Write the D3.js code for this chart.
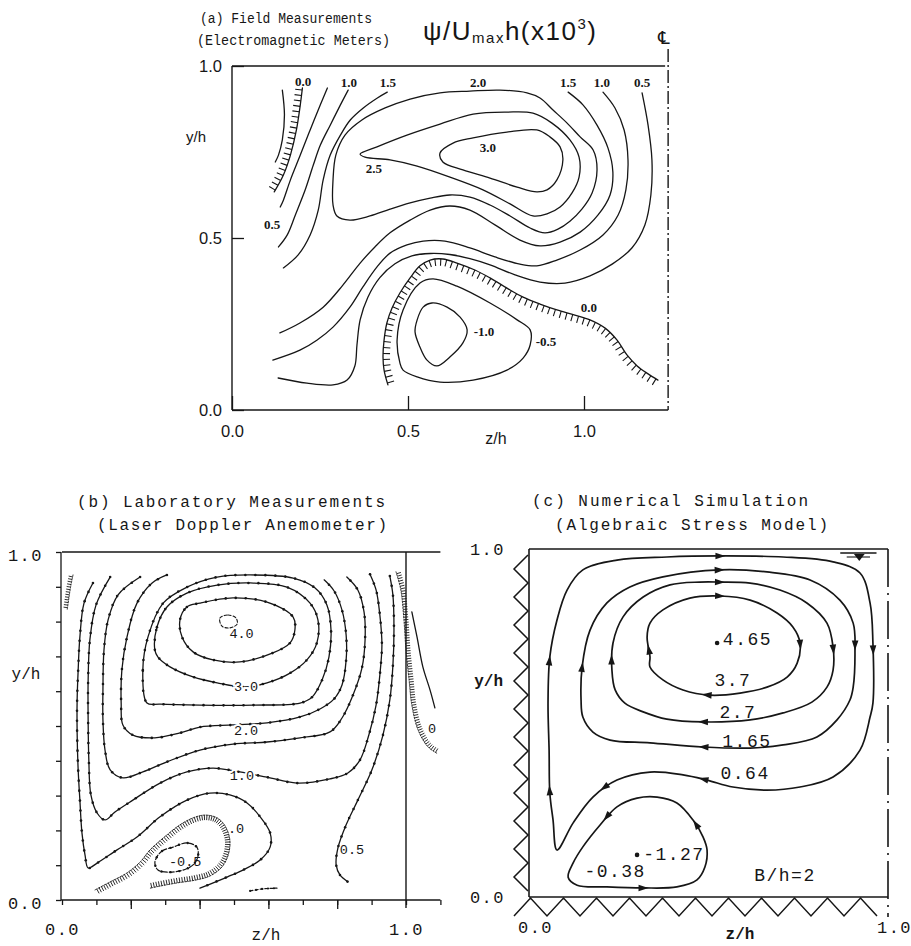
<!DOCTYPE html>
<html>
<head>
<meta charset="utf-8">
<script src="https://cdn.jsdelivr.net/npm/d3@7"></script>
<style>
  html,body{margin:0;padding:0;background:#fff;}
  svg{display:block;}
</style>
</head>
<body>
<svg id="chart" width="911" height="946" viewBox="0 0 911 946"></svg>
<script>
// ================= DATA (z/h, y/h) =================
// ---- Panel (a) Field measurements ----
const aZMax = 1.239;                       // channel centreline position
const aXTicks = [0, 0.5, 1.0];
const aYTicks = [0, 0.5, 1.0];
const aLeftPlain   = [[0.143,0.930],[0.149,0.858],[0.143,0.785],[0.132,0.741],[0.123,0.721]];
const aZeroTop     = [[0.200,0.936],[0.194,0.887],[0.183,0.814],[0.166,0.741],[0.146,0.683],[0.120,0.634]];
const aHalfLeft    = [[0.271,0.936],[0.251,0.887],[0.222,0.814],[0.194,0.741],[0.166,0.669],[0.146,0.610],[0.137,0.590]];
const aOneLeft     = [[0.330,0.930],[0.308,0.887],[0.279,0.828],[0.251,0.770],[0.231,0.712],[0.208,0.640],[0.180,0.567],[0.157,0.509],[0.132,0.474]];
const aOneHalfLeft = [[0.441,0.924],[0.413,0.907],[0.373,0.878],[0.336,0.843],[0.308,0.799],[0.279,0.741],[0.259,0.669],[0.245,0.581],[0.222,0.509],[0.188,0.451],[0.146,0.413]];
const aThree   = [[0.591,0.747],[0.628,0.776],[0.685,0.791],[0.781,0.808],[0.866,0.814],[0.903,0.794],[0.932,0.765],[0.940,0.727],[0.923,0.669],[0.895,0.640],[0.866,0.634],[0.810,0.648],[0.733,0.674],[0.656,0.698],[0.599,0.721]];
const aTwoHalf = [[0.364,0.744],[0.412,0.765],[0.497,0.799],[0.591,0.831],[0.685,0.860],[0.781,0.866],[0.855,0.863],[0.909,0.834],[0.960,0.785],[0.986,0.735],[0.986,0.677],[0.966,0.631],[0.932,0.590],[0.895,0.570],[0.855,0.564],[0.790,0.599],[0.713,0.640],[0.619,0.677],[0.526,0.709],[0.449,0.727],[0.378,0.735]];
const aTwo     = [[0.676,0.927],[0.591,0.922],[0.506,0.904],[0.435,0.878],[0.369,0.843],[0.321,0.799],[0.295,0.741],[0.287,0.669],[0.287,0.596],[0.298,0.564],[0.335,0.552],[0.392,0.564],[0.449,0.584],[0.506,0.602],[0.563,0.616],[0.619,0.625],[0.676,0.619],[0.733,0.596],[0.790,0.564],[0.847,0.529],[0.889,0.515],[0.926,0.526],[0.960,0.549],[0.994,0.584],[1.023,0.631],[1.037,0.698],[1.026,0.756],[0.989,0.794],[0.952,0.834],[0.912,0.872],[0.875,0.907],[0.838,0.922],[0.761,0.930]];
const aOneHalfRight = [[0.955,0.924],[0.997,0.887],[1.037,0.828],[1.068,0.762],[1.082,0.692],[1.074,0.625],[1.040,0.567],[0.989,0.517],[0.932,0.488],[0.875,0.477],[0.818,0.494],[0.747,0.538],[0.676,0.581],[0.619,0.593],[0.563,0.581],[0.506,0.552],[0.449,0.515],[0.406,0.474],[0.364,0.427],[0.315,0.363],[0.259,0.299],[0.193,0.253],[0.136,0.224]];
const aOneRight = [[1.054,0.924],[1.088,0.878],[1.114,0.814],[1.125,0.727],[1.119,0.640],[1.097,0.567],[1.054,0.509],[0.989,0.465],[0.923,0.436],[0.866,0.419],[0.818,0.424],[0.747,0.445],[0.676,0.471],[0.605,0.491],[0.543,0.491],[0.497,0.480],[0.449,0.456],[0.412,0.416],[0.372,0.358],[0.335,0.299],[0.287,0.241],[0.241,0.203],[0.193,0.174],[0.116,0.145]];
const aHalfRight = [[0.131,0.093],[0.213,0.078],[0.287,0.073],[0.327,0.087],[0.349,0.128],[0.355,0.189],[0.364,0.262],[0.386,0.328],[0.420,0.385],[0.463,0.425],[0.511,0.448],[0.563,0.455],[0.619,0.452],[0.676,0.440],[0.733,0.422],[0.804,0.393],[0.875,0.372],[0.946,0.369],[1.017,0.390],[1.080,0.424],[1.136,0.471],[1.173,0.538],[1.190,0.625],[1.193,0.727],[1.182,0.828],[1.165,0.922]];
const aZeroBottom = [[0.443,0.073],[0.432,0.116],[0.429,0.154],[0.432,0.203],[0.440,0.253],[0.455,0.297],[0.477,0.340],[0.506,0.384],[0.534,0.419],[0.563,0.436],[0.599,0.439],[0.639,0.427],[0.690,0.407],[0.733,0.384],[0.790,0.349],[0.827,0.328],[0.875,0.308],[0.923,0.291],[0.974,0.276],[1.017,0.262],[1.060,0.238],[1.094,0.203],[1.122,0.160],[1.151,0.128],[1.182,0.105],[1.210,0.087]];
const aMinusHalf = [[0.477,0.137],[0.469,0.203],[0.486,0.291],[0.534,0.369],[0.571,0.381],[0.639,0.360],[0.733,0.311],[0.810,0.262],[0.847,0.233],[0.847,0.189],[0.827,0.151],[0.781,0.116],[0.685,0.087],[0.591,0.081],[0.526,0.096],[0.486,0.116]];
const aMinusOne  = [[0.526,0.262],[0.543,0.299],[0.568,0.311],[0.611,0.299],[0.648,0.270],[0.668,0.233],[0.656,0.195],[0.619,0.154],[0.582,0.128],[0.554,0.145],[0.534,0.183],[0.520,0.227]];
const aLabels = [
  {t:"0.0", z:0.202, y:0.956}, {t:"1.0", z:0.332, y:0.951}, {t:"1.5", z:0.443, y:0.951},
  {t:"2.0", z:0.699, y:0.953}, {t:"1.5", z:0.955, y:0.951}, {t:"1.0", z:1.051, y:0.951},
  {t:"0.5", z:1.165, y:0.951}, {t:"3.0", z:0.727, y:0.762}, {t:"2.5", z:0.403, y:0.703},
  {t:"0.5", z:0.114, y:0.538}, {t:"0.0", z:1.014, y:0.297}, {t:"-1.0", z:0.716, y:0.227},
  {t:"-0.5", z:0.892, y:0.198}
];

// ---- Panel (b) Laboratory measurements ----
const bZMax = 1.1;
const bXTicks = [0,0.1,0.2,0.3,0.4,0.5,0.6,0.7,0.8,0.9,1.0,1.1];
const bXMajor = [0.2,0.4,0.6,0.8];
const bYTicks = [0,0.1,0.2,0.3,0.4,0.5,0.6,0.7,0.8,0.9,1.0];
const bLabelTicks = [0, 1.0];
const bFour      = [[0.459,0.810],[0.483,0.819],[0.506,0.810],[0.509,0.793],[0.488,0.782],[0.465,0.787]];
const bThreeHalf = [[0.343,0.805],[0.363,0.842],[0.401,0.853],[0.497,0.868],[0.596,0.856],[0.672,0.813],[0.677,0.776],[0.663,0.739],[0.613,0.710],[0.517,0.684],[0.439,0.690],[0.381,0.713],[0.349,0.756]];
const bThree     = [[0.270,0.718],[0.276,0.784],[0.305,0.842],[0.363,0.882],[0.451,0.905],[0.547,0.911],[0.654,0.899],[0.721,0.853],[0.744,0.805],[0.741,0.739],[0.712,0.690],[0.663,0.652],[0.596,0.624],[0.532,0.612],[0.451,0.624],[0.381,0.641],[0.314,0.670],[0.279,0.698]];
const bTwoHalf   = [[0.247,0.566],[0.235,0.661],[0.250,0.756],[0.294,0.853],[0.363,0.899],[0.451,0.928],[0.547,0.934],[0.672,0.925],[0.735,0.897],[0.770,0.848],[0.782,0.776],[0.776,0.698],[0.756,0.632],[0.727,0.583],[0.692,0.566],[0.555,0.560],[0.401,0.560],[0.285,0.563]];
const bTwo       = [[0.305,0.934],[0.262,0.911],[0.218,0.853],[0.189,0.756],[0.174,0.661],[0.172,0.566],[0.177,0.503],[0.206,0.474],[0.270,0.466],[0.343,0.480],[0.401,0.497],[0.497,0.503],[0.596,0.509],[0.692,0.526],[0.750,0.549],[0.791,0.578],[0.814,0.618],[0.826,0.690],[0.826,0.761],[0.814,0.833],[0.791,0.888],[0.762,0.920]];
const bOneHalf   = [[0.227,0.928],[0.163,0.877],[0.134,0.805],[0.122,0.718],[0.119,0.604],[0.119,0.517],[0.125,0.431],[0.140,0.374],[0.177,0.351],[0.235,0.368],[0.305,0.397],[0.401,0.431],[0.497,0.448],[0.596,0.454],[0.692,0.466],[0.779,0.483],[0.814,0.523],[0.846,0.589],[0.872,0.667],[0.881,0.747],[0.878,0.828],[0.860,0.891],[0.828,0.928]];
const bOne       = [[0.140,0.928],[0.099,0.848],[0.081,0.747],[0.076,0.632],[0.076,0.517],[0.078,0.402],[0.084,0.302],[0.102,0.250],[0.125,0.230],[0.154,0.253],[0.206,0.287],[0.285,0.336],[0.363,0.368],[0.439,0.379],[0.517,0.368],[0.596,0.353],[0.683,0.336],[0.779,0.348],[0.831,0.365],[0.866,0.402],[0.892,0.474],[0.913,0.560],[0.924,0.647],[0.930,0.733],[0.924,0.819],[0.913,0.891],[0.895,0.937]];
const bHalfLeft  = [[0.090,0.911],[0.064,0.853],[0.052,0.756],[0.047,0.661],[0.044,0.575],[0.044,0.480],[0.047,0.374],[0.052,0.287],[0.058,0.193],[0.067,0.129],[0.076,0.092],[0.102,0.106],[0.160,0.144],[0.218,0.181],[0.285,0.239],[0.363,0.287],[0.430,0.307],[0.488,0.302],[0.538,0.279],[0.576,0.239],[0.605,0.193],[0.605,0.152],[0.576,0.115],[0.526,0.086],[0.480,0.066],[0.401,0.034]];
const bHalfRight = [[0.953,0.931],[0.962,0.876],[0.965,0.776],[0.962,0.675],[0.953,0.575],[0.933,0.474],[0.901,0.374],[0.860,0.287],[0.826,0.216],[0.802,0.149],[0.797,0.101],[0.808,0.072],[0.831,0.052]];
const bZeroInner = [[0.096,0.029],[0.140,0.052],[0.189,0.078],[0.227,0.109],[0.256,0.144],[0.305,0.187],[0.343,0.216],[0.381,0.236],[0.416,0.244],[0.451,0.236],[0.474,0.213],[0.488,0.172],[0.483,0.129],[0.465,0.095],[0.430,0.069],[0.387,0.057],[0.334,0.049],[0.285,0.040],[0.256,0.034]];
const bMinusHalf = [[0.276,0.124],[0.291,0.141],[0.323,0.152],[0.363,0.164],[0.392,0.152],[0.395,0.124],[0.381,0.101],[0.352,0.086],[0.314,0.080],[0.279,0.086],[0.270,0.106]];
const bFragment  = [[0.547,0.026],[0.584,0.032],[0.625,0.034]];
const bCornerHatch = [[0.032,0.934],[0.026,0.905],[0.020,0.868],[0.015,0.833]];
const bWallHatch = [[0.971,0.943],[0.985,0.891],[0.994,0.805],[1.000,0.718],[1.009,0.632],[1.017,0.560],[1.035,0.489],[1.064,0.440],[1.093,0.420]];
const bBeyond    = [[1.017,0.828],[1.032,0.756],[1.049,0.670],[1.070,0.603],[1.084,0.552]];
const bLabels = [
  {t:"4.0", z:0.522, y:0.767, halo:false}, {t:"3.0", z:0.535, y:0.615, halo:true},
  {t:"2.0", z:0.535, y:0.489, halo:true},  {t:"1.0", z:0.523, y:0.359, halo:true},
  {t:".0",  z:0.506, y:0.207, halo:false}, {t:"-0.5", z:0.358, y:0.112, halo:false},
  {t:"0.5", z:0.843, y:0.147, halo:false}, {t:"0",  z:1.076, y:0.494, halo:false}
];

// ---- Panel (c) Numerical simulation ----
const cLabelTicks = [0, 1.0];
const c370 = [[0.337,0.690],[0.329,0.747],[0.337,0.787],[0.373,0.825],[0.448,0.859],[0.532,0.865],[0.616,0.853],[0.691,0.816],[0.735,0.776],[0.755,0.730],[0.747,0.672],[0.719,0.632],[0.663,0.603],[0.588,0.586],[0.504,0.580],[0.429,0.595],[0.373,0.624],[0.337,0.661]];
const c270 = [[0.231,0.652],[0.240,0.595],[0.267,0.557],[0.318,0.532],[0.384,0.511],[0.485,0.503],[0.616,0.509],[0.708,0.529],[0.788,0.560],[0.830,0.603],[0.847,0.652],[0.847,0.718],[0.830,0.787],[0.774,0.845],[0.699,0.882],[0.616,0.902],[0.532,0.905],[0.476,0.905],[0.393,0.897],[0.318,0.862],[0.262,0.805],[0.234,0.730]];
const c165 = [[0.145,0.566],[0.148,0.661],[0.170,0.767],[0.217,0.845],[0.281,0.891],[0.373,0.920],[0.532,0.940],[0.663,0.934],[0.783,0.911],[0.866,0.853],[0.903,0.787],[0.908,0.701],[0.903,0.603],[0.894,0.566],[0.858,0.509],[0.802,0.460],[0.708,0.437],[0.616,0.428],[0.485,0.431],[0.337,0.443],[0.226,0.451],[0.178,0.474],[0.150,0.517]];
const c064 = [[0.078,0.135],[0.067,0.221],[0.058,0.299],[0.056,0.422],[0.053,0.557],[0.058,0.690],[0.078,0.796],[0.106,0.882],[0.150,0.940],[0.245,0.968],[0.384,0.977],[0.532,0.980],[0.708,0.977],[0.847,0.963],[0.922,0.931],[0.950,0.845],[0.958,0.730],[0.958,0.557],[0.950,0.517],[0.922,0.422],[0.847,0.345],[0.755,0.316],[0.663,0.307],[0.568,0.316],[0.496,0.336],[0.429,0.351],[0.337,0.359],[0.245,0.336],[0.178,0.287],[0.123,0.213]];
const cM038 = [[0.109,0.057],[0.123,0.098],[0.150,0.144],[0.198,0.207],[0.245,0.259],[0.301,0.284],[0.357,0.287],[0.412,0.270],[0.457,0.221],[0.485,0.172],[0.496,0.135],[0.490,0.086],[0.468,0.049],[0.412,0.029],[0.318,0.026],[0.217,0.029],[0.134,0.034]];
const cArrows370 = [[0.532,0.862],[0.755,0.724],[0.331,0.710],[0.496,0.583]];
const cArrows270 = [[0.532,0.905],[0.847,0.710],[0.231,0.681],[0.485,0.503]];
const cArrows165 = [[0.532,0.940],[0.905,0.724],[0.148,0.661],[0.485,0.431]];
const cArrows064 = [[0.532,0.980],[0.958,0.710],[0.058,0.681],[0.058,0.307],[0.485,0.333],[0.209,0.313]];
const cArrowsM038 = [[0.220,0.227],[0.454,0.201],[0.318,0.026]];
const cPoints = [{z:0.524, y:0.730}, {z:0.301, y:0.121}];
const cLabels = [
  {t:"4.65", z:0.540, y:0.744, anchor:"start"},
  {t:"3.7",  z:0.568, y:0.624, anchor:"middle"},
  {t:"2.7",  z:0.582, y:0.532, anchor:"middle"},
  {t:"1.65", z:0.607, y:0.451, anchor:"middle"},
  {t:"0.64", z:0.602, y:0.359, anchor:"middle"},
  {t:"-1.27",z:0.318, y:0.126, anchor:"start"},
  {t:"-0.38",z:0.240, y:0.075, anchor:"middle"},
  {t:"B/h=2",z:0.713, y:0.066, anchor:"middle"}
];

// ================= RENDERING =================
const INK = "#161616";
const MONO = "'Liberation Mono','DejaVu Sans Mono',monospace";
const SANS = "'Liberation Sans','DejaVu Sans',Arial,sans-serif";
const SERIF = "'Liberation Serif','DejaVu Serif',serif";
const svg = d3.select("#chart");
svg.append("rect").attr("width",911).attr("height",946).attr("fill","#fff");

function tangentAt(node, s) {
  const L = node.getTotalLength();
  const a = node.getPointAtLength(Math.max(0, s - 0.8));
  const b = node.getPointAtLength(Math.min(L, s + 0.8));
  const dx = b.x - a.x, dy = b.y - a.y, m = Math.hypot(dx, dy) || 1;
  return [dx / m, dy / m];
}
function addHatch(g, node, h) {
  const L = node.getTotalLength();
  const p = d3.path();
  for (let s = h.start || 2; s < L - 1; s += h.step) {
    const q = node.getPointAtLength(s);
    const [tx, ty] = tangentAt(node, s);
    const nx = -ty * h.side, ny = tx * h.side;
    p.moveTo(q.x, q.y);
    p.lineTo(q.x + nx * h.len + tx * (h.lean || 0), q.y + ny * h.len + ty * (h.lean || 0));
  }
  g.append("path").attr("d", p.toString()).attr("fill", "none")
    .attr("stroke", INK).attr("stroke-width", h.sw || 1);
}
function addDots(g, node, d) {
  const L = node.getTotalLength();
  for (let s = 0; s <= L; s += d.step) {
    const q = node.getPointAtLength(s);
    g.append("circle").attr("cx", q.x).attr("cy", q.y).attr("r", d.r).attr("fill", INK);
  }
}
function drawLine(g, sx, sy, pts, o = {}) {
  const gen = d3.line().x(d => sx(d[0])).y(d => sy(d[1]))
    .curve(o.closed ? d3.curveCatmullRomClosed.alpha(0.5) : d3.curveCatmullRom.alpha(0.5));
  const p = g.append("path").attr("d", gen(pts)).attr("fill", "none")
    .attr("stroke", INK).attr("stroke-width", o.sw || 1.3)
    .attr("stroke-linejoin", "round").attr("stroke-linecap", "round");
  if (o.dash) p.attr("stroke-dasharray", o.dash);
  const node = p.node();
  if (o.hatch) addHatch(g, node, o.hatch);
  if (o.dots) addDots(g, node, o.dots);
  return node;
}
function addArrows(g, node, sx, sy, targets, dir) {
  const L = node.getTotalLength();
  targets.forEach(t => {
    const tx = sx(t[0]), ty = sy(t[1]);
    let best = 0, bd = Infinity;
    for (let s = 0; s <= L; s += 1) {
      const q = node.getPointAtLength(s);
      const d = (q.x - tx) ** 2 + (q.y - ty) ** 2;
      if (d < bd) { bd = d; best = s; }
    }
    const q = node.getPointAtLength(best);
    let [ux, uy] = tangentAt(node, best); ux *= dir; uy *= dir;
    const len = 10, w = 3.3;
    const tip = [q.x + ux * len / 2, q.y + uy * len / 2];
    const base = [q.x - ux * len / 2, q.y - uy * len / 2];
    const pts = [tip, [base[0] - uy * w, base[1] + ux * w], [base[0] + uy * w, base[1] - ux * w]];
    g.append("path").attr("d", "M" + pts.map(v => v.join(",")).join("L") + "Z").attr("fill", INK);
  });
}
function frameLine(g, x1, y1, x2, y2, w, dash) {
  const l = g.append("line").attr("x1", x1).attr("y1", y1).attr("x2", x2).attr("y2", y2)
    .attr("stroke", INK).attr("stroke-width", w || 1.4);
  if (dash) l.attr("stroke-dasharray", dash);
  return l;
}
function styleAxis(sel, font, size, extra) {
  sel.select(".domain").remove();
  sel.attr("font-family", null).attr("font-size", null);
  sel.selectAll(".tick line").attr("stroke", INK).attr("stroke-width", 1.3);
  sel.selectAll(".tick text").attr("fill", INK).attr("font-family", font).attr("font-size", size);
  if (extra) sel.selectAll(".tick text").each(function(){ extra(d3.select(this)); });
}

// ---------------- Panel (a) ----------------
(function(){
  const g = svg.append("g");
  const x = d3.scaleLinear().domain([0, 1]).range([232, 584]);
  const y = d3.scaleLinear().domain([0, 1]).range([410, 66]);

  // titles
  g.append("text").attr("x", 200).attr("y", 23).attr("font-family", MONO).attr("font-size", 14.5)
    .attr("textLength", 172).attr("lengthAdjust", "spacingAndGlyphs").attr("fill", INK).text("(a) Field Measurements");
  g.append("text").attr("x", 197).attr("y", 45).attr("font-family", MONO).attr("font-size", 14.5)
    .attr("textLength", 193).attr("lengthAdjust", "spacingAndGlyphs").attr("fill", INK).text("(Electromagnetic Meters)");
  const f = g.append("text").attr("x", 423).attr("y", 40).attr("font-family", SANS).attr("font-size", 26)
    .attr("letter-spacing", 1.5).attr("fill", INK);
  f.append("tspan").text("ψ/U");
  f.append("tspan").attr("font-size", 15).attr("dy", 3).text("max");
  f.append("tspan").attr("dy", -3).text("h(x10");
  f.append("tspan").attr("font-size", 15).attr("dy", -11).text("3");
  f.append("tspan").attr("dy", 11).text(")");
  g.append("text").attr("x", 664).attr("y", 44).attr("text-anchor", "middle")
    .attr("font-family", "'DejaVu Sans',sans-serif").attr("font-size", 18).attr("fill", INK).text("℄");

  // frame
  frameLine(g, x(0), y(1), x(0), y(0));
  frameLine(g, x(0), y(0), x(aZMax), y(0));
  frameLine(g, x(0), y(1), x(aZMax) - 3, y(1));
  frameLine(g, x(aZMax), 49, x(aZMax), y(0), 1.4, "13,3,2,3");

  g.append("g").attr("transform", `translate(0,${y(0)})`)
    .call(d3.axisBottom(x).tickValues(aXTicks).tickFormat(d3.format(".1f")).tickSize(-14).tickPadding(15))
    .call(s => styleAxis(s, SANS, 16.5));
  g.append("g").attr("transform", `translate(${x(0)},0)`)
    .call(d3.axisLeft(y).tickValues(aYTicks).tickFormat(d3.format(".1f")).tickSize(-12).tickPadding(10))
    .call(s => styleAxis(s, SANS, 16.5));
  g.append("text").attr("x", 496).attr("y", 444).attr("text-anchor", "middle").attr("font-family", SANS)
    .attr("font-size", 16).attr("fill", INK).text("z/h");
  g.append("text").attr("x", 206).attr("y", 142).attr("text-anchor", "end").attr("font-family", SANS)
    .attr("font-size", 15).attr("fill", INK).text("y/h");

  // contours
  drawLine(g, x, y, aLeftPlain);
  drawLine(g, x, y, aZeroTop, {hatch:{step:5.5, len:7, side:1, lean:0, sw:1.1}});
  drawLine(g, x, y, aHalfLeft);
  drawLine(g, x, y, aOneLeft);
  drawLine(g, x, y, aOneHalfLeft);
  drawLine(g, x, y, aThree, {closed:true});
  drawLine(g, x, y, aTwoHalf, {closed:true});
  drawLine(g, x, y, aTwo, {closed:true});
  drawLine(g, x, y, aOneHalfRight);
  drawLine(g, x, y, aOneRight);
  drawLine(g, x, y, aHalfRight);
  drawLine(g, x, y, aZeroBottom, {hatch:{step:6, len:7, side:1, lean:0, sw:1.1}});
  drawLine(g, x, y, aMinusHalf, {closed:true});
  drawLine(g, x, y, aMinusOne, {closed:true});

  g.selectAll("text.al").data(aLabels).join("text").attr("class", "al")
    .attr("x", d => x(d.z)).attr("y", d => y(d.y)).attr("dy", "0.35em")
    .attr("text-anchor", "middle").attr("font-family", SERIF).attr("font-size", 13)
    .attr("font-weight", 600).attr("fill", INK).text(d => d.t);
})();

// ---------------- Panel (b) ----------------
(function(){
  const g = svg.append("g");
  const x = d3.scaleLinear().domain([0, 1]).range([62, 406]);
  const y = d3.scaleLinear().domain([0, 1]).range([900, 552]);

  g.append("text").attr("x", 77).attr("y", 507).attr("font-family", MONO).attr("font-size", 16)
    .attr("textLength", 308).attr("lengthAdjust", "spacing").attr("fill", INK).text("(b) Laboratory Measurements");
  g.append("text").attr("x", 97).attr("y", 530).attr("font-family", MONO).attr("font-size", 16)
    .attr("textLength", 290).attr("lengthAdjust", "spacing").attr("fill", INK).text("(Laser Doppler Anemometer)");

  frameLine(g, x(0) - 1, y(1), x(0) - 1, y(0), 1.3);
  frameLine(g, x(0), y(1), x(bZMax), y(1), 1.3);
  frameLine(g, x(0) - 1, y(0), x(bZMax), y(0), 1.3);
  frameLine(g, x(1), y(1), x(1), y(0) + 8, 1.4);

  g.append("g").attr("transform", `translate(0,${y(0)})`)
    .call(d3.axisBottom(x).tickValues(bXTicks).tickFormat("").tickSize(5)).call(s => styleAxis(s, MONO, 16));
  g.append("g").attr("transform", `translate(0,${y(0)})`)
    .call(d3.axisBottom(x).tickValues(bXMajor).tickFormat("").tickSize(9)).call(s => styleAxis(s, MONO, 16));
  g.append("g").attr("transform", `translate(0,${y(0)})`)
    .call(d3.axisBottom(x).tickValues(bLabelTicks).tickFormat(d3.format(".1f")).tickSize(0).tickPadding(23))
    .call(s => styleAxis(s, MONO, 17, t => t.attr("letter-spacing", 1.5)));
  g.append("g").attr("transform", `translate(${x(0) - 1},0)`)
    .call(d3.axisLeft(y).tickValues(bYTicks).tickFormat("").tickSize(5)).call(s => styleAxis(s, MONO, 16));
  g.append("g").attr("transform", `translate(${x(0) - 1},0)`)
    .call(d3.axisLeft(y).tickValues(bLabelTicks).tickFormat(d3.format(".1f")).tickSize(0).tickPadding(18))
    .call(s => styleAxis(s, MONO, 17, t => t.attr("letter-spacing", 1.5).attr("dy", "0.5em")));
  g.append("text").attr("x", 266).attr("y", 940).attr("text-anchor", "middle").attr("font-family", MONO)
    .attr("font-size", 16).attr("fill", INK).text("z/h");
  g.append("text").attr("x", 26).attr("y", 679).attr("text-anchor", "middle").attr("font-family", MONO)
    .attr("font-size", 16).attr("fill", INK).text("y/h");

  const dots = {step: 10, r: 1.3};
  drawLine(g, x, y, bFour, {closed:true, dash:"3,2", sw:1.1});
  drawLine(g, x, y, bThreeHalf, {closed:true, dots});
  drawLine(g, x, y, bThree, {closed:true, dots});
  drawLine(g, x, y, bTwoHalf, {closed:true, dots});
  drawLine(g, x, y, bTwo, {dots});
  drawLine(g, x, y, bOneHalf, {dots});
  drawLine(g, x, y, bOne, {dots});
  drawLine(g, x, y, bHalfLeft, {dots});
  drawLine(g, x, y, bHalfRight, {dots});
  drawLine(g, x, y, bMinusHalf, {closed:true, dash:"5,2", dots:{step:9, r:1.2}, sw:1.2});
  drawLine(g, x, y, bZeroInner, {sw:0.9, dash:"2,1.5", hatch:{step:2.6, len:5, side:1, sw:0.9}});
  drawLine(g, x, y, bFragment, {dash:"3,2", sw:1.2, dots:{step:6, r:1.1}});
  drawLine(g, x, y, bCornerHatch, {sw:0.9, dash:"1.5,1.5", hatch:{step:2.6, len:4, side:1, sw:0.9}});
  drawLine(g, x, y, bWallHatch, {sw:0.9, dash:"1.5,1.5", hatch:{step:2.6, len:4.5, side:-1, sw:0.9}});
  drawLine(g, x, y, bBeyond, {sw:1.3});

  g.selectAll("text.bl").data(bLabels).join("text").attr("class", "bl")
    .attr("x", d => x(d.z)).attr("y", d => y(d.y)).attr("dy", "0.35em")
    .attr("text-anchor", "middle").attr("font-family", MONO).attr("font-size", 13.5)
    .attr("fill", INK).attr("stroke", d => d.halo ? "#fff" : "none").attr("stroke-width", 4)
    .attr("paint-order", "stroke").text(d => d.t);
})();

// ---------------- Panel (c) ----------------
(function(){
  const g = svg.append("g");
  const x = d3.scaleLinear().domain([0, 1]).range([529, 888]);
  const y = d3.scaleLinear().domain([0, 1]).range([897, 549]);

  g.append("text").attr("x", 532).attr("y", 506).attr("font-family", MONO).attr("font-size", 16)
    .attr("textLength", 276).attr("lengthAdjust", "spacing").attr("fill", INK).text("(c) Numerical Simulation");
  g.append("text").attr("x", 555).attr("y", 530).attr("font-family", MONO).attr("font-size", 16)
    .attr("textLength", 273).attr("lengthAdjust", "spacing").attr("fill", INK).text("(Algebraic Stress Model)");

  // walls
  frameLine(g, x(0), y(1), x(0), y(0), 1.6);
  frameLine(g, x(0), y(1), x(1), y(1), 1.6);
  frameLine(g, x(0), y(0), x(1), y(0), 1.6);
  frameLine(g, x(1), y(1), x(1), y(0) + 20, 1.6, "38,6,2,6");
  const zigL = [];
  for (let i = 0, py = y(1) + 6; py <= y(0); i++, py += 14) zigL.push([x(0) - (i % 2 ? 15 : 1), py]);
  g.append("path").attr("d", d3.line()(zigL)).attr("fill", "none").attr("stroke", INK).attr("stroke-width", 1.5);
  const zigB = [];
  for (let i = 0, px = x(0) - 15; px <= x(1) + 2; i++, px += 16.5) zigB.push([px, y(0) + (i % 2 ? 1 : 19)]);
  g.append("path").attr("d", d3.line()(zigB)).attr("fill", "none").attr("stroke", INK).attr("stroke-width", 1.5);
  // free surface symbol
  frameLine(g, x(0.867), y(1) + 4, x(0.968), y(1) + 4, 1.4);
  frameLine(g, x(0.885), y(1) + 8, x(0.95), y(1) + 8, 1.1);
  g.append("path").attr("d", `M${x(0.905)},${y(1)+5}L${x(0.935)},${y(1)+5}L${x(0.92)},${y(1)+12}Z`).attr("fill", INK);

  g.append("g").attr("transform", `translate(0,${y(0)})`)
    .call(d3.axisBottom(x).tickValues(cLabelTicks).tickFormat(d3.format(".1f")).tickSize(0).tickPadding(24))
    .call(s => styleAxis(s, MONO, 17, t => t.attr("letter-spacing", 1.5).attr("dx", 6)));
  g.append("g").attr("transform", `translate(${x(0)},0)`)
    .call(d3.axisLeft(y).tickValues(cLabelTicks).tickFormat(d3.format(".1f")).tickSize(0).tickPadding(24))
    .call(s => styleAxis(s, MONO, 17, t => t.attr("letter-spacing", 1.5)));
  g.append("text").attr("x", 740).attr("y", 939).attr("text-anchor", "middle").attr("font-family", MONO)
    .attr("font-size", 16).attr("font-weight", "bold").attr("fill", INK).text("z/h");
  g.append("text").attr("x", 503).attr("y", 686).attr("text-anchor", "end").attr("font-family", MONO)
    .attr("font-size", 16).attr("font-weight", "bold").attr("fill", INK).text("y/h");

  const n370 = drawLine(g, x, y, c370, {closed:true, sw:1.7});
  const n270 = drawLine(g, x, y, c270, {closed:true, sw:1.7});
  const n165 = drawLine(g, x, y, c165, {closed:true, sw:1.7});
  const n064 = drawLine(g, x, y, c064, {closed:true, sw:1.7});
  const nM038 = drawLine(g, x, y, cM038, {closed:true, sw:1.7});
  addArrows(g, n370, x, y, cArrows370, 1);
  addArrows(g, n270, x, y, cArrows270, -1);
  addArrows(g, n165, x, y, cArrows165, 1);
  addArrows(g, n064, x, y, cArrows064, 1);
  addArrows(g, nM038, x, y, cArrowsM038, -1);

  g.selectAll("circle.cp").data(cPoints).join("circle").attr("class", "cp")
    .attr("cx", d => x(d.z)).attr("cy", d => y(d.y)).attr("r", 2.3).attr("fill", INK);
  g.selectAll("text.cl").data(cLabels).join("text").attr("class", "cl")
    .attr("x", d => x(d.z)).attr("y", d => y(d.y)).attr("dy", "0.36em")
    .attr("text-anchor", d => d.anchor).attr("font-family", MONO).attr("font-size", 18)
    .attr("letter-spacing", 1.5).attr("fill", INK).text(d => d.t);
})();
</script>
</body>
</html>
